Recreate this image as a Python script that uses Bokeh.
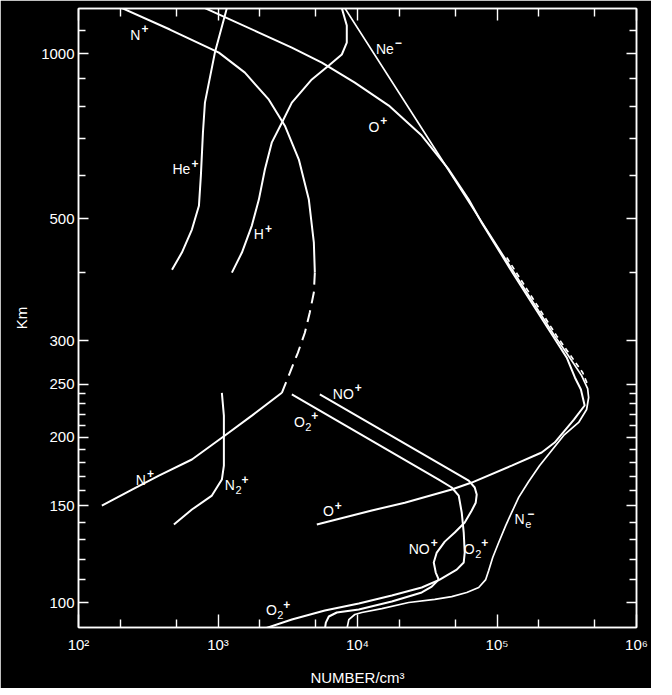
from bokeh.plotting import figure
from bokeh.models import FixedTicker, LogAxis, ColumnDataSource
from bokeh.core.properties import value
from bokeh.embed import file_html
from bokeh.resources import INLINE

FONT = "Liberation Sans"

# ---------------- data: density (per cm^3) vs altitude (km) ----------------
n_plus_upper_dens = [205, 452, 1015, 1559, 2316, 3015, 3798, 4479, 4864, 4945]
n_plus_upper_alt = [1210, 1106, 1004, 923, 824, 739, 641, 542, 453, 399]
n_plus_model_dens = [4945, 4864, 4554, 4194, 3735, 3273, 2869]
n_plus_model_alt = [399, 367, 338, 310, 285, 262, 241]
n_plus_lower_dens = [2869, 1749, 1121, 650, 377, 242, 147]
n_plus_lower_alt = [241, 219, 201.5, 182.2, 170.3, 160.6, 150.2]

n2_plus_dens = [1066, 1102, 1102, 1102, 1066, 904, 650, 483]
n2_plus_alt = [241, 219, 198, 177.6, 167.5, 156.6, 147.7, 138.7]

he_plus_dens = [1158, 950, 806, 780, 754, 730, 650, 551, 468]
he_plus_alt = [1210, 1004, 814, 718, 600, 528, 478, 434, 404]

h_plus_dens = [7720, 8380, 8380, 7720, 6230, 4705, 3383, 2869, 2433, 2168, 1963, 1749, 1484, 1258]
h_plus_alt = [1210, 1125, 1047, 996, 951, 897, 814, 748, 689, 615, 542, 486, 434, 399]

o_plus_dens = [806, 1963, 3383, 5551, 9566, 16760, 28870, 45080, 62700, 77690,
               131700, 214200, 315740, 361700, 399500, 424850, 355900, 259030,
               209040, 127450, 65890, 47350, 21820, 12660, 5110]
o_plus_alt = [1210, 1092, 1025, 963, 885, 804, 709, 615, 542, 492,
              395.8, 326, 279.5, 257, 244.3, 228.5, 215.4, 195.6,
              187.6, 177.6, 165.4, 160.6, 152, 147.1, 138.7]

ne_dens = [8110, 46060, 259030, 331750, 404300, 446400, 453800, 439000, 384800,
           300500, 246500, 202260, 168690, 143030, 127450, 115460, 102850, 93170,
           87210, 83010, 73940, 60670, 47350, 35790, 23310, 14934, 10735, 9566,
           8665, 8380]
ne_alt = [1210, 607, 306, 279.5, 259, 245.3, 236.3, 224.7, 212.8,
          201.5, 189.2, 177.6, 166.1, 155.4, 145.9, 138.1, 128.6, 120.8,
          114.4, 110.1, 106.5, 104.3, 102.5, 101.3, 100, 97.5, 95.9, 95.1,
          93.1, 89.3]

ne_model_dens = [117400, 267700, 411000, 446400]
ne_model_alt = [425, 306, 262.4, 249.5]

no_plus_dens = [5370, 62700, 69230, 71550, 70380, 65890, 58700, 49780, 42220,
                36990, 35210, 36390, 38230, 34060, 28870, 17610, 10217, 7108,
                6230, 5929, 5832]
no_plus_alt = [239.3, 166.8, 162, 157.3, 152, 147.1, 139.9, 134.1, 129.1,
               123.3, 118.3, 113.4, 110.1, 106.9, 104.3, 100.4, 97.1, 95.9,
               94.3, 91.9, 89.3]

o2_plus_dens = [3383, 38230, 47350, 53170, 55860, 57740, 58700, 57740, 51440,
                38870, 28870, 17610, 10217, 5832, 3383, 2063]
o2_plus_alt = [239.3, 167.5, 162, 156.6, 145.9, 134.1, 123.3, 118.3, 114.8,
               110.1, 106.5, 103, 99.6, 96.7, 93.1, 89.3]

# curve labels: base text, subscript, superscript, anchor density, anchor altitude
lab_base = ["N", "He", "H", "Ne", "O", "NO", "O", "O", "N", "N", "NO", "O", "N", "O"]
lab_sub = ["", "", "", "", "", "", "2", "", "", "2", "", "2", "e", "2"]
lab_sup = ["+", "+", "+", "\u2212", "+", "+", "+", "+", "+", "+", "+", "+", "\u2212", "+"]
lab_x = [278, 634, 2133, 18200, 14330, 9408, 4194, 6765, 304.5, 1322, 32950, 69230, 158000, 2642]
lab_y = [1081, 616, 469, 1021, 736, 239.8, 213.6, 146.5, 167.2, 163.7, 125.2, 125.2, 141.9, 96.9]

x_major = [1e2, 1e3, 1e4, 1e5, 1e6]
x_minor = [2e2, 5e2, 2e3, 5e3, 2e4, 5e4, 2e5, 5e5]
x_labels = {100: "10\u00b2", 1000: "10\u00b3", 10000: "10\u2074", 100000: "10\u2075", 1000000: "10\u2076"}
y_major = [100, 150, 200, 250, 300, 500, 1000]
y_minor = [110, 120, 130, 140, 160, 170, 180, 190, 210, 220, 230, 240, 400, 600, 700, 800, 900, 1100]

# ---------------- figure ----------------
p = figure(x_axis_type="log", y_axis_type="log",
           x_range=(1e2, 1e6), y_range=(90.05, 1208),
           frame_width=558, frame_height=619,
           min_border_left=78, min_border_right=15, min_border_top=8, min_border_bottom=59,
           output_backend="svg", toolbar_location=None,
           background_fill_color="black", border_fill_color="black",
           outline_line_color="white", outline_line_width=1.5)
p.xgrid.visible = False
p.ygrid.visible = False


def style_axis(ax, major_in, minor_in):
    ax.axis_line_color = "white"
    ax.axis_line_width = 1.5
    ax.major_tick_line_color = "white"
    ax.minor_tick_line_color = "white"
    ax.major_tick_line_width = 1.4
    ax.minor_tick_line_width = 1.4
    ax.major_tick_in = major_in
    ax.major_tick_out = 0
    ax.minor_tick_in = minor_in
    ax.minor_tick_out = 0
    ax.major_label_text_color = "white"
    ax.major_label_text_font = FONT
    ax.major_label_text_font_size = "15px"
    ax.axis_label_text_color = "white"
    ax.axis_label_text_font = FONT
    ax.axis_label_text_font_size = "15px"
    ax.axis_label_text_font_style = "normal"


xa = p.xaxis[0]
xa.ticker = FixedTicker(ticks=x_major, minor_ticks=x_minor)
xa.major_label_overrides = x_labels
style_axis(xa, 13, 8)
xa.major_label_standoff = 8
xa.axis_label = "NUMBER/cm\u00b3"
xa.axis_label_standoff = 13

ya = p.yaxis[0]
ya.ticker = FixedTicker(ticks=y_major, minor_ticks=y_minor)
ya.major_label_overrides = {v: str(v) for v in y_major}
style_axis(ya, 10, 7)
ya.major_label_standoff = 4
ya.axis_label = "Km"
ya.axis_label_standoff = 8

top = LogAxis(ticker=FixedTicker(ticks=x_major, minor_ticks=x_minor),
              major_label_overrides={v: "" for v in x_labels})
style_axis(top, 12, 8)
top.major_label_standoff = 0
p.add_layout(top, "above")

right = LogAxis(ticker=FixedTicker(ticks=y_major, minor_ticks=y_minor),
                major_label_overrides={v: "" for v in y_major})
style_axis(right, 10, 7)
right.major_label_standoff = 0
p.add_layout(right, "right")

# ---------------- curves ----------------
LW = 2.0
p.line(n_plus_upper_dens, n_plus_upper_alt, line_color="white", line_width=LW)
p.line(n_plus_model_dens, n_plus_model_alt, line_color="white", line_width=LW, line_dash="12 7")
p.line(n_plus_lower_dens, n_plus_lower_alt, line_color="white", line_width=LW)
p.line(n2_plus_dens, n2_plus_alt, line_color="white", line_width=LW)
p.line(he_plus_dens, he_plus_alt, line_color="white", line_width=LW)
p.line(h_plus_dens, h_plus_alt, line_color="white", line_width=LW)
p.line(o_plus_dens, o_plus_alt, line_color="white", line_width=LW)
p.line(ne_dens, ne_alt, line_color="white", line_width=1.7)
p.line(ne_model_dens, ne_model_alt, line_color="white", line_width=1.7, line_dash="5 4")
p.line(no_plus_dens, no_plus_alt, line_color="white", line_width=LW)
p.line(o2_plus_dens, o2_plus_alt, line_color="white", line_width=LW)

# ---------------- curve labels ----------------
base_src = ColumnDataSource(dict(x=lab_x, y=lab_y, text=lab_base))
p.text(x="x", y="y", text="text", source=base_src, text_color="white",
       text_font=value(FONT), text_font_size="14px",
       text_align="right", text_baseline="middle")

sub_idx = [i for i, s in enumerate(lab_sub) if s]
sub_src = ColumnDataSource(dict(x=[lab_x[i] for i in sub_idx], y=[lab_y[i] for i in sub_idx],
                                text=[lab_sub[i] for i in sub_idx]))
p.text(x="x", y="y", text="text", source=sub_src, text_color="white",
       text_font=value(FONT), text_font_size="11px",
       text_align="left", text_baseline="middle", x_offset=0.5, y_offset=5)

sup_src = ColumnDataSource(dict(x=lab_x, y=lab_y, text=lab_sup,
                                dx=[6.5 if s == "2" else (2.5 if s == "e" else 1) for s in lab_sub]))
p.text(x="x", y="y", text="text", source=sup_src, text_color="white",
       text_font=value(FONT), text_font_size="12px", text_font_style="bold",
       text_align="left", text_baseline="middle", x_offset="dx", y_offset=-6)

open("out.html", "w").write(file_html(p, INLINE))
